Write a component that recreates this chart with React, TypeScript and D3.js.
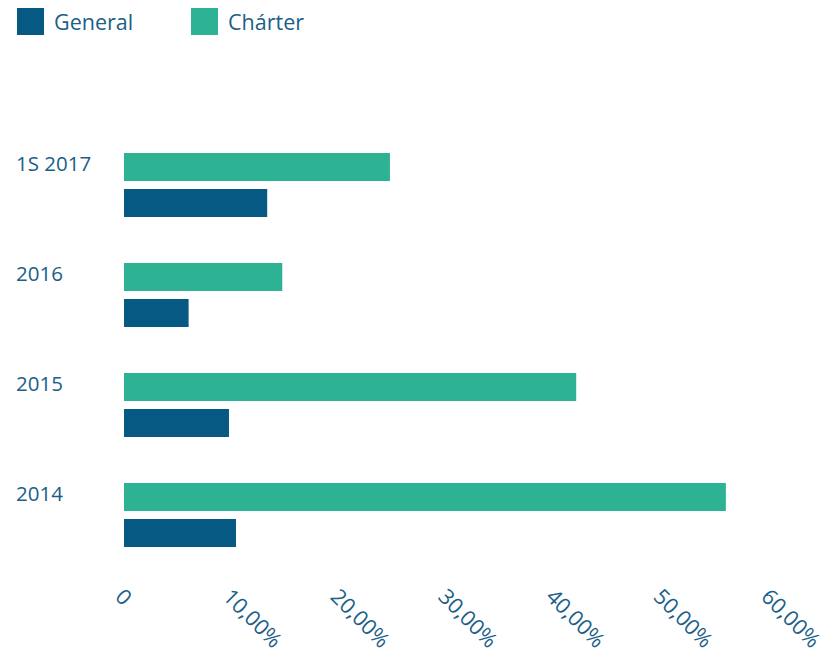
import React from "react";
import * as d3 from "d3";

const categories = ["1S 2017", "2016", "2015", "2014"];
const seriesNames = ["Chárter", "General"];
const charterValues = [0.247, 0.147, 0.42, 0.559];
const generalValues = [0.133, 0.06, 0.0975, 0.104];
const tickValues = [0, 0.1, 0.2, 0.3, 0.4, 0.5, 0.6];
const tickLabels = ["0", "10,00%", "20,00%", "30,00%", "40,00%", "50,00%", "60,00%"];
const legendItems = ["General", "Chárter"];

const colors: Record<string, string> = { "General": "#065983", "Chárter": "#2db293" };
const textColor = "#1b5e88";
const font = "'Open Sans', 'Noto Sans', sans-serif";

export default function App() {
  const W = 823, H = 658;
  const x = d3.scaleLinear().domain([0, 0.6]).range([124, 770]);
  const y = d3.scaleBand().domain(categories).range([153, 547]).paddingInner(46 / 110).paddingOuter(0);
  const inner = d3.scaleBand().domain(seriesNames).range([0, y.bandwidth()]).paddingInner(8 / 36).paddingOuter(0);
  const values: Record<string, number[]> = { "Chárter": charterValues, "General": generalValues };
  const legendX = [17, 191];

  return (
    <svg width={W} height={H} style={{ position: "absolute", left: 0, top: 0 }} fontFamily={font}>
      <rect width={W} height={H} fill="#ffffff" />
      {legendItems.map((name, i) => (
        <g key={name} transform={`translate(${legendX[i]},8)`}>
          <rect width={27} height={27} fill={colors[name]} />
          <text x={37} y={21.5} fontSize={21.5} fill={textColor}>{name}</text>
        </g>
      ))}
      {categories.map((c, ci) => (
        <g key={c}>
          <text x={16} y={(y(c) as number) + 18} fontSize={20.5} fill={textColor}>{c}</text>
          {seriesNames.map((s) => (
            <rect
              key={s}
              x={x(0)}
              y={(y(c) as number) + (inner(s) as number)}
              width={x(values[s][ci]) - x(0)}
              height={inner.bandwidth()}
              fill={colors[s]}
            />
          ))}
        </g>
      ))}
      {tickValues.map((t, i) => (
        <text
          key={i}
          transform={`translate(${x(t) - 10},598) rotate(45)`}
          fontSize={21.5}
          fill={textColor}
          textAnchor="start"
        >
          {tickLabels[i]}
        </text>
      ))}
    </svg>
  );
}
